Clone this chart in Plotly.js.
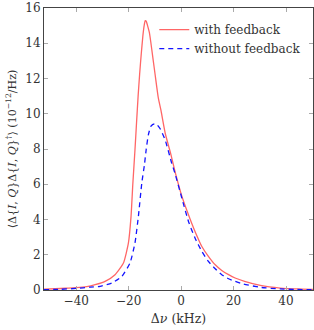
<!DOCTYPE html>
<html>
<head>
<meta charset="utf-8">
<script src="https://cdn.plot.ly/plotly-3.0.1.min.js"></script>
<style>html,body{margin:0;padding:0;background:#fff;}#chart{width:314px;height:330px;}</style>
</head>
<body>
<div id="chart"></div>
<script>
// Δν (kHz) and spectral density (10^-12 /Hz)
const xWith = [-52.3, -48, -44, -40, -36, -32.8, -29, -25.2, -22, -20.1, -19.1, -18.4, -17.6, -17, -16.4, -15.8, -15.2, -14.6, -14.1, -13.7, -13.3, -12.8, -12.1, -11.6, -10.8, -9.9, -8.7, -7.7, -6, -4, -2.3, 0.3, 2.8, 5.3, 7.9, 10.4, 13, 15.5, 18.1, 20.6, 24.2, 30.2, 37.8, 44, 50.3];
const yWith = [0.05, 0.07, 0.10, 0.13, 0.19, 0.30, 0.49, 0.87, 1.53, 2.67, 4.18, 6.07, 7.96, 9.5, 11.0, 12.3, 13.4, 14.4, 15.0, 15.28, 15.25, 15.0, 14.6, 14.1, 13.2, 12.2, 10.9, 10.2, 8.85, 7.75, 6.7, 5.31, 4.27, 3.32, 2.47, 1.91, 1.43, 1.11, 0.87, 0.68, 0.49, 0.26, 0.11, 0.06, 0.04];
const xWithout = [-52.3, -46, -40, -34.7, -30.9, -26.4, -22.6, -19.5, -17.6, -16.3, -15.0, -14.0, -13.3, -12.5, -11.5, -10.2, -9.2, -8.0, -6.1, -3.6, -2.3, 0.3, 2.8, 5.3, 7.9, 10.4, 13, 15.5, 18.1, 20.6, 23.8, 30.2, 37.8, 44, 50.3];
const yWithout = [0.02, 0.04, 0.09, 0.16, 0.21, 0.40, 0.77, 1.53, 2.67, 4.18, 6.07, 7.1, 8.0, 8.8, 9.3, 9.43, 9.38, 9.15, 8.52, 7.2, 6.6, 5.2, 3.89, 2.95, 2.19, 1.62, 1.21, 0.87, 0.64, 0.49, 0.34, 0.15, 0.06, 0.03, 0.02];
const seriesNames = ["with feedback", "without feedback"];
const xTicks = [-40, -20, 0, 20, 40];
const yTicks = [0, 2, 4, 6, 8, 10, 12, 14, 16];

const FAMILY = "DejaVu Serif";

const traces = [
  {x: xWith, y: yWith, name: seriesNames[0], type: "scatter", mode: "lines",
   line: {color: "rgb(255,102,102)", width: 1.3, shape: "spline", smoothing: 0.5}},
  {x: xWithout, y: yWithout, name: seriesNames[1], type: "scatter", mode: "lines",
   line: {color: "rgb(20,20,255)", width: 1.3, dash: "5px,4px", shape: "spline", smoothing: 0.5}}
];

const axisCommon = {
  showline: true, linecolor: "#444", linewidth: 1, mirror: "ticks",
  ticks: "inside", ticklen: 4, tickcolor: "#aaa", tickwidth: 1,
  showgrid: false, zeroline: false,
  tickfont: {family: FAMILY, size: 12, color: "#333"}
};

const layout = {
  width: 314, height: 330,
  margin: {l: 44, r: 1, t: 8, b: 40},
  paper_bgcolor: "#fff", plot_bgcolor: "#fff",
  font: {family: FAMILY, size: 12, color: "#333"},
  showlegend: true,
  legend: {x: 0.975, y: 0.975, xanchor: "right", yanchor: "top",
           bgcolor: "rgba(255,255,255,0)", borderwidth: 0,
           font: {family: FAMILY, size: 12, color: "#333"},
           tracegroupgap: 0, itemwidth: 30},
  xaxis: Object.assign({}, axisCommon, {
    range: [-52.3, 50.3], tickvals: xTicks, ticktext: xTicks.map(v => v < 0 ? "\u2212" + Math.abs(v) : String(v)),
    title: {text: "\u0394<i>\u03bd</i> (kHz)", font: {family: FAMILY, size: 12.5, color: "#333"}, standoff: 6}
  }),
  yaxis: Object.assign({}, axisCommon, {
    range: [0, 16], tickvals: yTicks,
    title: {text: "\u27e8\u0394{<i>I</i>, <i>Q</i>}\u0394{<i>I</i>, <i>Q</i>}<sup>\u2020</sup>\u27e9 (10<sup>\u221212</sup>/Hz)", font: {family: FAMILY, size: 11, color: "#333"}, standoff: 6}
  })
};

Plotly.newPlot("chart", traces, layout, {displayModeBar: false, staticPlot: true});
</script>
</body>
</html>
